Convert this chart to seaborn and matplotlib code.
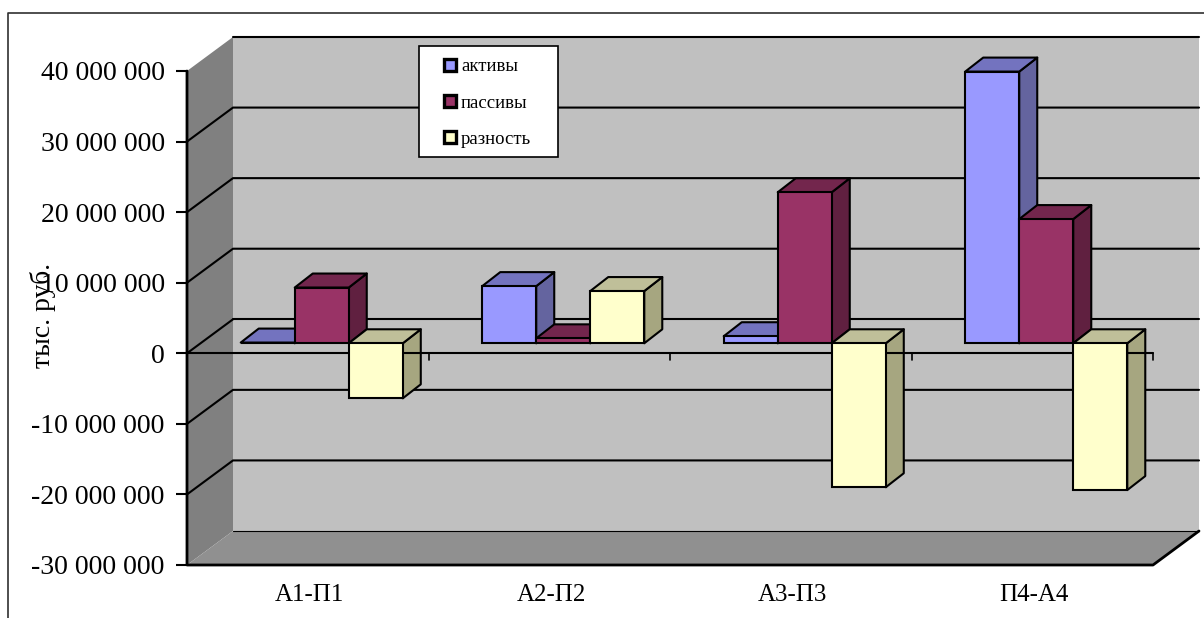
import numpy as np
import pandas as pd
import matplotlib
matplotlib.use("Agg")
import matplotlib.pyplot as plt
import seaborn as sns
from matplotlib.patches import Polygon, Patch, Rectangle
from matplotlib.ticker import FuncFormatter, MultipleLocator
from matplotlib.transforms import IdentityTransform, Affine2D

categories = ["А1-П1", "А2-П2", "А3-П3", "П4-А4"]
aktivy = [0.1e6, 8.1e6, 1.0e6, 38.5e6]
passivy = [7.9e6, 0.7e6, 21.4e6, 17.6e6]
raznost = [-7.8e6, 7.4e6, -20.4e6, -20.8e6]
series_names = ["активы", "пассивы", "разность"]
front_colors = ["#9999FF", "#993366", "#FFFFCC"]
top_colors = ["#7373BF", "#73264D", "#BFBF99"]
side_colors = ["#64649F", "#602040", "#A6A680"]

W, H = 1204, 618
DPI = 100
# depth of the chart box and of each bar, in pixels
BOX_DX, BOX_DY = 46, 34
BAR_DX, BAR_DY = 18, 14
SHIFT_X, SHIFT_Y = 14, 10

sns.set_theme(style="white")
plt.rcParams["font.family"] = ["Liberation Serif", "DejaVu Serif"]

df = pd.DataFrame({
    "cat": categories * 3,
    "series": sum([[n] * 4 for n in series_names], []),
    "val": aktivy + passivy + raznost,
})

fig = plt.figure(figsize=(W / DPI, H / DPI), dpi=DPI, facecolor="white")


def rect(l, r, bottom, top):
    return [l / W, (H - bottom) / H, (r - l) / W, (bottom - top) / H]


ax = fig.add_axes(rect(187, 1153, 565, 71))
ax2 = fig.add_axes(rect(187 + SHIFT_X, 1153 + SHIFT_X, 565 - SHIFT_Y, 71 - SHIFT_Y))
ymin, ymax = -30e6, 40e6

sns.barplot(data=df, x="cat", y="val", hue="series", order=categories,
            hue_order=series_names, palette=front_colors, saturation=1,
            width=0.671, gap=0, dodge=True, edgecolor="black", linewidth=1.5,
            err_kws={"linewidth": 0}, legend=False, ax=ax2)

for a in (ax, ax2):
    a.set_xlim(-0.5, 3.5)
    a.set_ylim(ymin, ymax)
ax2.patch.set_alpha(0)
ax2.axis("off")

# axis text
ax.patch.set_alpha(0)
for s in ax.spines.values():
    s.set_visible(False)
ax.set_xticks(range(len(categories)))
ax.set_xticklabels(categories, fontsize=18)
ax.yaxis.set_major_locator(MultipleLocator(10e6))
ax.yaxis.set_major_formatter(FuncFormatter(lambda v, _: f"{int(round(v)):,}".replace(",", " ")))
ax.tick_params(axis="y", left=True, length=8, width=1.5, color="black", pad=8,
               labelsize=20, labelcolor="black")
ax.tick_params(axis="x", bottom=False, length=0, pad=14, labelcolor="black")
for lab in ax.get_xticklabels():
    lab.set_transform(lab.get_transform() + Affine2D().translate(2, 0))
ax.set_ylabel("тыс. руб.", fontsize=20, color="black")
ax.yaxis.set_label_coords((56 - 187) / 966, (565 - 315) / 494)

fig.canvas.draw()
P = ax.transData.transform
ID = IdentityTransform()
x0, x1 = -0.5, 3.5


def poly(target, pts, **kw):
    target.add_patch(Polygon(pts, closed=True, transform=ID, clip_on=False, **kw))


def line(target, pts, **kw):
    arr = np.array(pts)
    target.plot(arr[:, 0], arr[:, 1], transform=ID, clip_on=False, color="black",
                solid_capstyle="round", **kw)


fl, ft = P((x0, ymax)), P((x0, ymin))
fr = P((x1, ymin))
off = np.array([BOX_DX, BOX_DY])
# walls and floor
poly(ax, [fl + off, P((x1, ymax)) + off, fr + off, ft + off], fc="#C0C0C0", ec="none", zorder=0.1)
poly(ax, [fl, fl + off, ft + off, ft], fc="#808080", ec="none", zorder=0.2)
poly(ax, [ft, ft + off, fr + off, fr], fc="#909090", ec="none", zorder=0.3)
# gridlines on the walls
for v in ax.get_yticks():
    if ymin <= v <= ymax:
        p = P((x0, v))
        q = P((x1, v))
        if v == 0:
            continue
        if v == ymin:
            line(ax, [p + off, q + off], lw=0.8, zorder=0.5)
        elif v == ymax:
            line(ax, [p + off, q + off], lw=1.5, zorder=0.5)
        else:
            line(ax, [p, p + off, q + off], lw=1.5, zorder=0.5)
p0 = P((x0, 0))
line(ax, [p0 + off, P((x1, 0)) + off], lw=1.5, zorder=0.5)
line(ax, [p0, p0 + off], lw=1.5, zorder=0.5)
# box edges
line(ax, [fl, ft, fr, fr + off], lw=2, zorder=0.6)

# category axis at zero, in the bar axes so that it passes behind bar fronts
z0 = P((x0, 0))
z1 = P((x1, 0))
line(ax2, [z0, z1], lw=1.5, zorder=3.5)
for b in np.arange(x0, x1 + 0.5, 1):
    pz = P((b, 0))
    line(ax2, [pz, pz - np.array([0, 7])], lw=1.2, zorder=3.5)

# depth faces of the bars, from their own drawn rectangles
bars = [r for r in ax2.patches if isinstance(r, Rectangle)]
hue_index = {i: i // len(categories) for i in range(len(bars))}
dep = np.array([BAR_DX, BAR_DY])
fig.canvas.draw()
order = sorted(range(len(bars)), key=lambda i: bars[i].get_x())
for rank, i in enumerate(order):
    r = bars[i]
    h = hue_index[i]
    bb = r.get_window_extent()
    b = np.array([bb.x1, bb.y0])
    c = np.array([bb.x1, bb.y1])
    d = np.array([bb.x0, bb.y1])
    z = 1 + rank * 0.1
    poly(ax2, [b, b + dep, c + dep, c], fc=side_colors[h], ec="black", lw=1.5,
         joinstyle="round", zorder=z)
    poly(ax2, [d, c, c + dep, d + dep], fc=top_colors[h], ec="black", lw=1.5,
         joinstyle="round", zorder=z + 0.05)
    r.set_zorder(5 + rank * 0.1)

# frame around the chart
fig.add_artist(plt.Line2D([8 / W, 8 / W, 1], [0, (H - 13) / H, (H - 13) / H],
                          color="#303030", lw=1.2, transform=fig.transFigure))

# legend
ax2.add_patch(Rectangle((419, H - 157), 139, 111, transform=ID, clip_on=False,
                        fc="white", ec="black", lw=1.2, zorder=9))
handles = [Patch(fc=c, ec="black", lw=2.4) for c in front_colors]
leg = ax2.legend(handles, series_names, loc="upper left",
                 bbox_to_anchor=(434.6, H - 49), bbox_transform=ID, frameon=False,
                 fontsize=13.5, handlelength=0.62, handleheight=0.62,
                 handletextpad=0.29, labelspacing=1.03, borderpad=0.5,
                 borderaxespad=0)
leg.set_zorder(10)
for t in leg.get_texts():
    t.set_color("black")

fig.savefig("out.png", dpi=DPI, facecolor="white")
